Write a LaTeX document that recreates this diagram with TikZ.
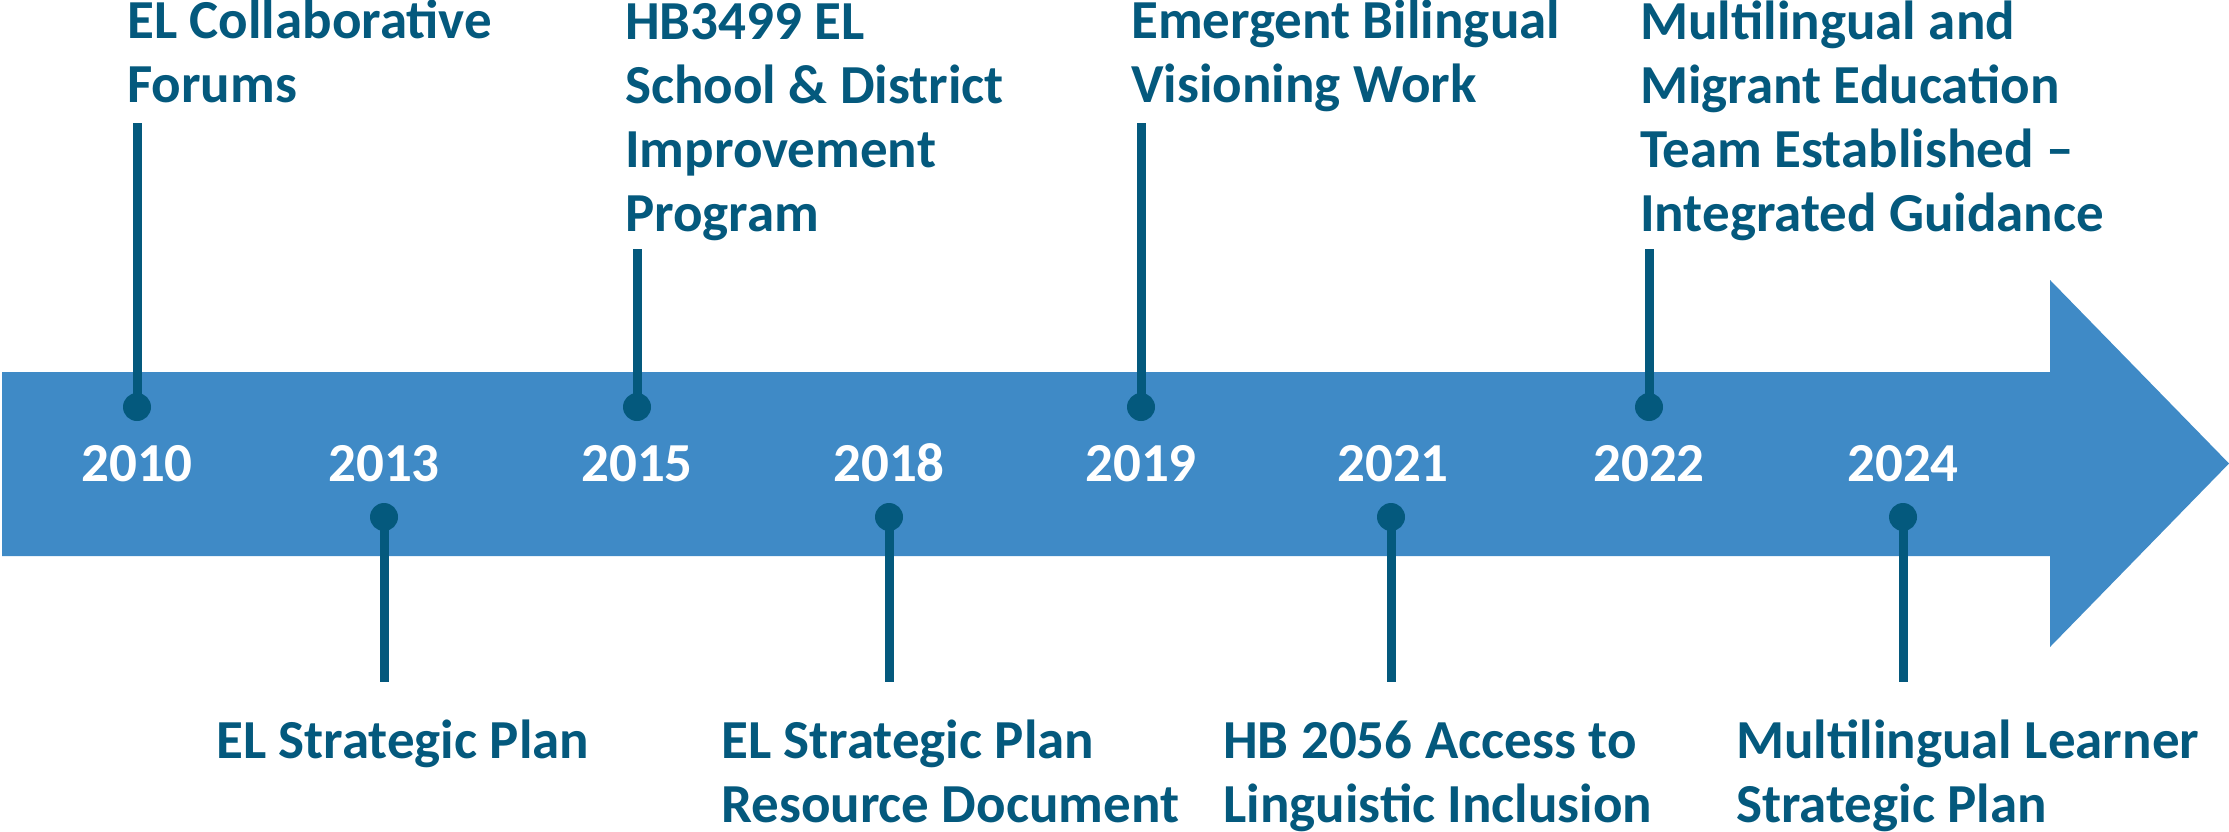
\documentclass[tikz,border=0pt]{standalone}
\usepackage{fontspec}
\setmainfont{Carlito}
\definecolor{arrowblue}{HTML}{3F8AC6}
\definecolor{markteal}{HTML}{04597D}
\begin{document}
\begin{tikzpicture}[x=1pt,y=-1pt,
  % label nodes are placed by the baseline of their last line
  evtext/.style={anchor=base west, align=left, inner sep=0pt, text=markteal,
    font=\bfseries\fontsize{55}{64}\selectfont},
  yeartext/.style={anchor=base, inner sep=0pt, text=white,
    font=\bfseries\fontsize{55}{64}\selectfont},
  tdot/.style={circle, fill=markteal, minimum size=28pt, inner sep=0pt},
  stem/.style={draw=markteal, line width=9pt}]
\useasboundingbox (0,0) rectangle (2229,832);

% timeline arrow
\fill[arrowblue] (2,372) -- (2050,372) -- (2050,280) -- (2229,463.5)
  -- (2050,647) -- (2050,556) -- (2,556) -- cycle;

% years
\foreach \yr/\xx in {2010/137,2013/384,2015/637,2018/889,2019/1141,2021/1393,2022/1649,2024/1903}
  \node[yeartext] (y\yr) at (\xx,481) {\yr};

% events above the arrow
\node[tdot] (d2010) at (137,407) {};
\node[tdot] (d2015) at (637,407) {};
\node[tdot] (d2019) at (1141,407) {};
\node[tdot] (d2022) at (1649,407) {};
\coordinate (s2010) at (137,123);
\coordinate (s2015) at (637,249);
\coordinate (s2019) at (1141,123);
\coordinate (s2022) at (1649,249);
\draw[stem] (d2010.center) -- (s2010);
\draw[stem] (d2015.center) -- (s2015);
\draw[stem] (d2019.center) -- (s2019);
\draw[stem] (d2022.center) -- (s2022);

\node[evtext] (t2010) at (127,103) {EL Collaborative\\Forums};
\node[evtext] (t2015) at (625,231) {HB3499 EL\\School \& District\\Improvement\\Program};
\node[evtext] (t2019) at (1131,103) {Emergent Bilingual\\Visioning Work};
\node[evtext] (t2022) at (1640,231) {Multilingual and\\Migrant Education\\Team Established –\\Integrated Guidance};

% events below the arrow
\node[tdot] (d2013) at (384,517) {};
\node[tdot] (d2018) at (889,517) {};
\node[tdot] (d2021) at (1391,517) {};
\node[tdot] (d2024) at (1903,517) {};
\coordinate (s2013) at (384,682);
\coordinate (s2018) at (889,682);
\coordinate (s2021) at (1391,682);
\coordinate (s2024) at (1903,682);
\draw[stem] (d2013.center) -- (s2013);
\draw[stem] (d2018.center) -- (s2018);
\draw[stem] (d2021.center) -- (s2021);
\draw[stem] (d2024.center) -- (s2024);

\node[evtext] (t2013) at (216,758) {EL Strategic Plan};
\node[evtext] (t2018) at (721,822) {EL Strategic Plan\\Resource Document};
\node[evtext] (t2021) at (1223,822) {HB 2056 Access to\\Linguistic Inclusion};
\node[evtext] (t2024) at (1736,822) {Multilingual Learner\\Strategic Plan};
\end{tikzpicture}
\end{document}
